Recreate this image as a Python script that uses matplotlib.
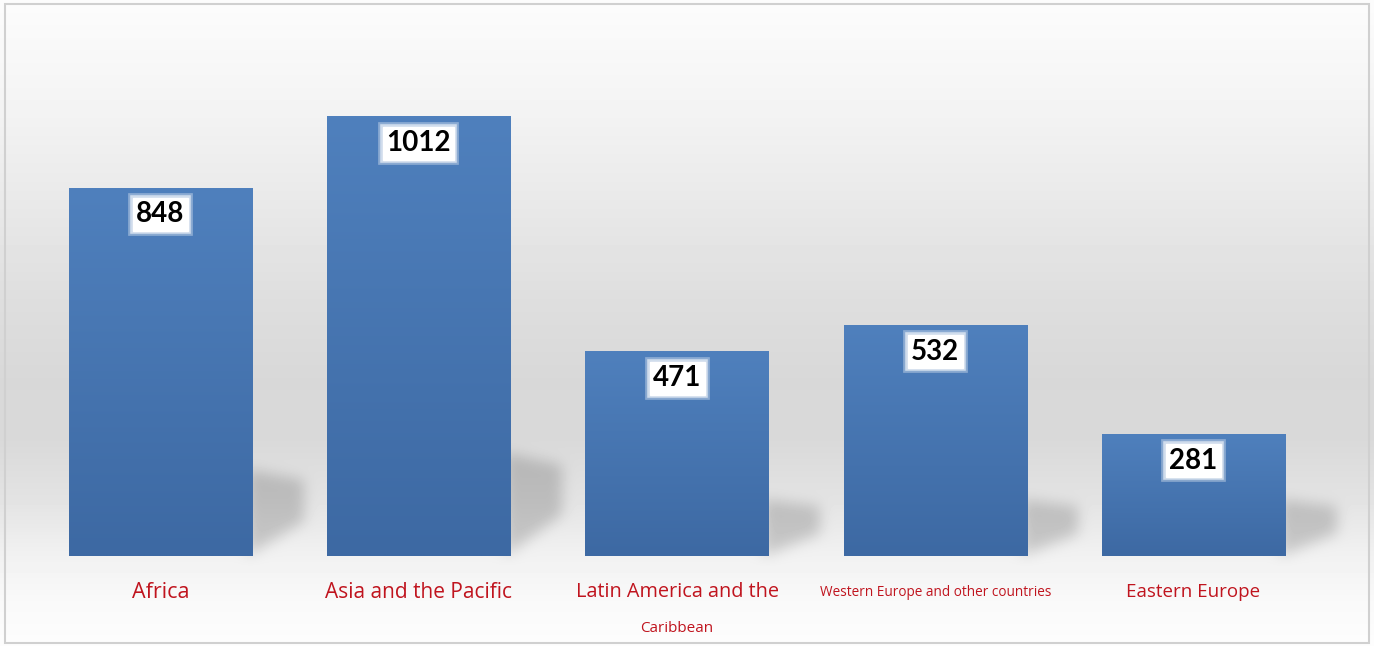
import numpy as np
import matplotlib
matplotlib.use("Agg")
import matplotlib.pyplot as plt
from matplotlib.path import Path
from matplotlib.patches import Rectangle

# ===== Data =====
regions = ["Africa", "Asia and the Pacific", "Latin America and the",
           "Western Europe and other countries", "Eastern Europe"]
counts = [848, 1012, 471, 532, 281]
label_sizes = [15.5, 15, 14.3, 9.8, 13.5]
extra_line = {2: "Caribbean"}

W_PX, H_PX, DPI = 1374, 646, 100
BAR_W = 0.709
LABEL_RED = "#c0141e"

fig = plt.figure(figsize=(W_PX / DPI, H_PX / DPI), dpi=DPI)

# main axes, placed in pixels
left, bottom, width, height = 31.4, 90, 1291.25, 526
ax = fig.add_axes([left / W_PX, bottom / H_PX, width / W_PX, height / H_PX])
ax.set_xlim(-0.5, len(counts) - 0.5)
ax.set_ylim(0, height / 0.4345)
ax.patch.set_alpha(0)
ax.axis("off")

# ===== Background: vertical gray gradient with soft bar shadows =====
prof_y = [0, 100, 200, 300, 380, 440, 500, 550, 600, 646]
prof_v = [252, 244, 233, 222, 216, 217, 227, 240, 249, 253]
rows = np.interp(np.arange(H_PX), prof_y, prof_v) / 255.0
bg = np.repeat(rows[:, None], W_PX, axis=1)

fig.canvas.draw()
yy, xx = np.mgrid[0:H_PX, 0:W_PX]
pts = np.column_stack([xx.ravel() + 0.5, (H_PX - yy.ravel()) - 0.5])
mask = np.zeros(H_PX * W_PX)
for i, v in enumerate(counts):
    xr = i + BAR_W / 2
    hs = max(0.235 * v, 130)
    d = 0.2
    poly = [(xr - 0.02, 0), (xr - 0.02, hs), (xr + d, hs * 0.88), (xr + d, hs * 0.4)]
    poly_px = ax.transData.transform(poly)
    mask = np.maximum(mask, Path(poly_px).contains_points(pts).astype(float))
mask = mask.reshape(H_PX, W_PX)


def box_blur(a, r, axis):
    a = np.moveaxis(a, axis, -1)
    p = np.pad(a, [(0, 0), (r + 1, r)], mode="edge")
    c = np.cumsum(p, axis=-1)
    out = (c[:, 2 * r + 1:] - c[:, :-2 * r - 1]) / (2 * r + 1)
    return np.moveaxis(out, -1, axis)


for _ in range(3):
    mask = box_blur(mask, 6, 0)
    mask = box_blur(mask, 6, 1)

bg = bg * (1 - 0.17 * mask)

bg_ax = fig.add_axes([0, 0, 1, 1], zorder=-1)
bg_ax.imshow(bg, cmap="gray", vmin=0, vmax=1, aspect="auto",
             extent=(0, W_PX, 0, H_PX), interpolation="bilinear")
bg_ax.set_xlim(0, W_PX)
bg_ax.set_ylim(0, H_PX)
bg_ax.axis("off")
bg_ax.add_patch(Rectangle((5, 3), W_PX - 10, H_PX - 7, fill=False,
                          edgecolor="#d0d0d0", linewidth=1.5))

# ===== Bars with a subtle vertical gradient =====
x = np.arange(len(counts))
bars = ax.bar(x, counts, width=BAR_W, color="#4677b3", zorder=2)
grad = np.linspace(0, 1, 100)[:, None]
top_c = np.array([0x4f, 0x80, 0xbd]) / 255
bot_c = np.array([0x3d, 0x69, 0xa3]) / 255
img = (top_c[None, None, :] * (1 - grad[:, :, None]) + bot_c[None, None, :] * grad[:, :, None])
for b in bars:
    im = ax.imshow(img, extent=(b.get_x(), b.get_x() + b.get_width(), 0, b.get_height()),
                   aspect="auto", zorder=3, interpolation="bilinear")
    im.set_clip_path(b)

# value labels with a soft white glow
for i, v in enumerate(counts):
    for lw, a in [(7, 0.35), (4, 0.6)]:
        ax.annotate(str(v), xy=(i, v), xytext=(0, -10), textcoords="offset points",
                    ha="center", va="top", fontsize=20, fontweight="bold",
                    family="Lato", color="none", zorder=4,
                    bbox=dict(boxstyle="square,pad=0.12", facecolor="white",
                              edgecolor=(1, 1, 1, a), linewidth=lw))
    ax.annotate(str(v), xy=(i, v), xytext=(0, -10), textcoords="offset points",
                ha="center", va="top", fontsize=20, fontweight="bold",
                family="Lato", color="black", zorder=5,
                bbox=dict(boxstyle="square,pad=0.12", facecolor="white",
                          edgecolor="white", linewidth=1))

# category labels
for i, name in enumerate(regions):
    ax.annotate(name, xy=(i, 0), xytext=(0, -36 * 0.72), textcoords="offset points",
                ha="center", va="center", fontsize=label_sizes[i],
                family="Open Sans", color=LABEL_RED, annotation_clip=False)
for i, name in extra_line.items():
    ax.annotate(name, xy=(i, 0), xytext=(0, -73 * 0.72), textcoords="offset points",
                ha="center", va="center", fontsize=11,
                family="Open Sans", color=LABEL_RED, annotation_clip=False)

fig.savefig("out.png", dpi=DPI)
